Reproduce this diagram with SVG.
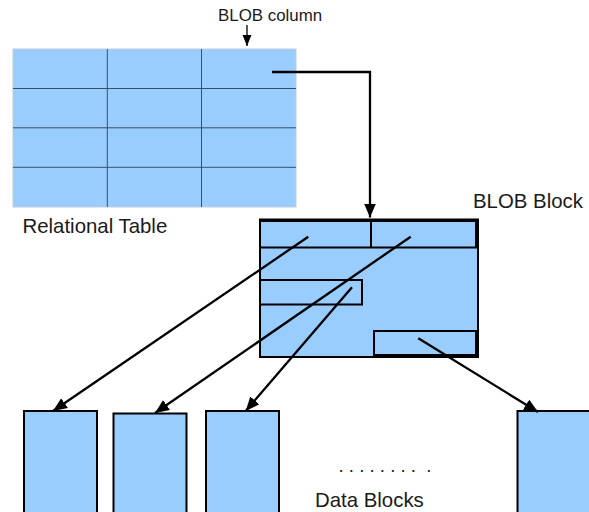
<svg xmlns="http://www.w3.org/2000/svg" width="589" height="512" viewBox="0 0 589 512">
<defs>
<style>
.lbl{font-family:"Liberation Sans",Arial,sans-serif;fill:#1a1a1a}
.blk{fill:#99ccff;stroke:#000;stroke-width:2}
.grid{stroke:#3d4d66;stroke-width:1;fill:none}
.con{stroke:#000;stroke-width:2.3;fill:none}
</style>
<marker id="ah" markerUnits="userSpaceOnUse" markerWidth="16" markerHeight="14" refX="14" refY="6" orient="auto">
<path d="M0,0 L14,6 L0,12 z" fill="#000"/>
</marker>
<marker id="ahs" markerUnits="userSpaceOnUse" markerWidth="12" markerHeight="10" refX="11" refY="4.5" orient="auto">
<path d="M0,0 L11,4.5 L0,9 z" fill="#000"/>
</marker>
</defs>
<rect width="589" height="512" fill="#fff"/>

<g id="relational-table">
<rect x="13" y="49" width="283" height="158" fill="#99ccff" stroke="#c4ccd6" stroke-width="1"/>
<path class="grid" d="M107.3,49V207M201.5,49V207M13,88.5H296M13,127.8H296M13,167.3H296"/>
<text class="lbl" x="22.5" y="233" font-size="20.4">Relational Table</text>
</g>

<g id="blob-column-label">
<text class="lbl" x="218" y="20.5" font-size="16.9">BLOB column</text>
</g>

<g id="blob-block">
<rect class="blk" x="260" y="219.5" width="218" height="137.5"/>
<rect class="blk" x="260" y="221" width="216" height="26.5"/>
<line x1="371" y1="221" x2="371" y2="247.5" stroke="#000" stroke-width="2"/>
<rect class="blk" x="260" y="280" width="102" height="24.5"/>
<rect class="blk" x="374" y="331" width="102" height="24"/>
<text class="lbl" x="473" y="208" font-size="20.4">BLOB Block</text>
</g>

<g id="data-block-1"><rect class="blk" x="24" y="411" width="73" height="110"/></g>
<g id="data-block-2"><rect class="blk" x="113.5" y="413.5" width="73" height="110"/></g>
<g id="data-block-3"><rect class="blk" x="206" y="411" width="73" height="110"/></g>
<g id="data-block-4"><rect class="blk" x="517.5" y="411" width="80" height="110"/></g>

<g id="data-blocks-label">
<text class="lbl" x="338.5" y="472" font-size="18.6" xml:space="preserve">. . . . . . . .  .</text>
<text class="lbl" x="315" y="507" font-size="20.4">Data Blocks</text>
</g>

<g id="connectors">
<line x1="247" y1="25" x2="247" y2="46" stroke="#000" stroke-width="1.3" marker-end="url(#ahs)"/>
<path class="con" d="M272,72H370V217.5" marker-end="url(#ah)"/>
<line class="con" x1="308.3" y1="236.7" x2="53" y2="411" marker-end="url(#ah)"/>
<line class="con" x1="410.7" y1="236.7" x2="155" y2="413" marker-end="url(#ah)"/>
<line class="con" x1="352" y1="287.3" x2="245.7" y2="411" marker-end="url(#ah)"/>
<line class="con" x1="418.3" y1="338.3" x2="538" y2="412" marker-end="url(#ah)"/>
</g>
</svg>
